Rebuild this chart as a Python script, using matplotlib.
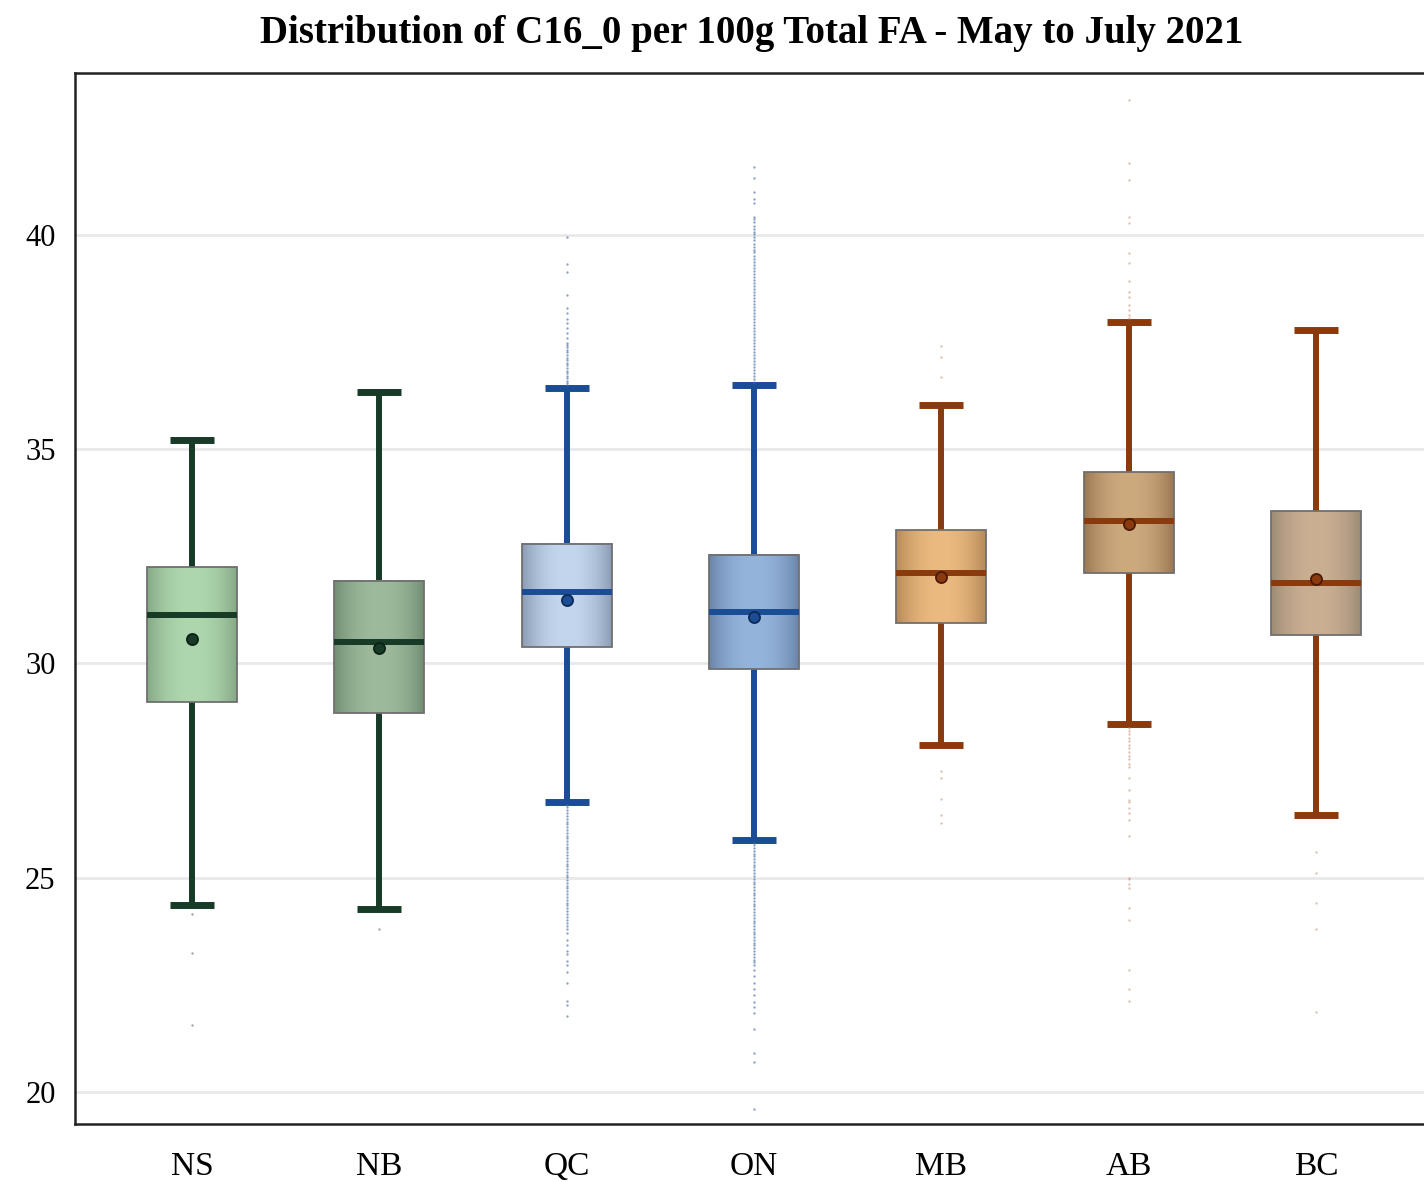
import numpy as np
import matplotlib
matplotlib.use("Agg")
import matplotlib.pyplot as plt
from matplotlib.colors import to_rgb

plt.rcParams['font.family'] = ['Liberation Serif', 'DejaVu Serif']

# ---- data -------------------------------------------------------------
provinces = ['NS', 'NB', 'QC', 'ON', 'MB', 'AB', 'BC']
q1 = [29.11, 28.84, 30.39, 29.86, 30.95, 32.12, 30.67]
medians = [31.13, 30.49, 31.66, 31.19, 32.11, 33.33, 31.87]
q3 = [32.26, 31.93, 32.80, 32.53, 33.12, 34.47, 33.56]
means = [30.57, 30.35, 31.48, 31.09, 32.02, 33.26, 31.96]
whisker_low = [24.36, 24.27, 26.77, 25.88, 28.10, 28.59, 26.46]
whisker_high = [35.22, 36.34, 36.43, 36.50, 36.03, 37.97, 37.78]

outliers_ns = [24.15, 23.24, 21.56]
outliers_nb = [23.80]
outliers_qc = [39.95, 39.32, 39.14, 38.60, 38.30, 38.18, 38.04, 37.95, 37.83,
               37.71, 37.60, 37.48, 37.44, 37.38, 37.31, 37.26, 37.20, 37.13,
               37.08, 37.02, 36.96, 36.90, 36.83, 36.78, 36.71, 36.66, 36.60,
               36.55, 36.49,
               26.70, 26.64, 26.57, 26.51, 26.45, 26.38, 26.31, 26.25, 26.18,
               26.12, 26.05, 25.98, 25.92, 25.85, 25.79, 25.72, 25.66, 25.59,
               25.53, 25.46, 25.40, 25.33, 25.27, 25.20, 25.14, 25.07, 25.01,
               24.94, 24.88, 24.81, 24.75, 24.68, 24.62, 24.55, 24.49, 24.42,
               24.36, 24.29, 24.22, 24.15, 24.08, 24.01, 23.94, 23.87, 23.80,
               23.70, 23.55, 23.44, 23.30, 23.21, 23.05, 22.96, 22.80, 22.54,
               22.12, 22.03, 21.77]
outliers_on = [41.59, 41.33, 41.00, 40.84, 40.75, 40.42, 40.37, 40.30, 40.22,
               40.15, 40.08, 40.02, 39.95, 39.88, 39.80, 39.73, 39.66, 39.60,
               39.52, 39.45, 39.38, 39.31, 39.24, 39.17, 39.10, 39.03, 38.96,
               38.89, 38.82, 38.75, 38.68, 38.61, 38.54, 38.47, 38.40, 38.33,
               38.26, 38.19, 38.12, 38.05, 37.98, 37.91, 37.84, 37.77, 37.70,
               37.63, 37.56, 37.49, 37.42, 37.35, 37.28, 37.21, 37.14, 37.07,
               37.00, 36.93, 36.86, 36.79, 36.72, 36.65, 36.58,
               25.82, 25.76, 25.69, 25.63, 25.56, 25.50, 25.43, 25.37, 25.30,
               25.24, 25.17, 25.11, 25.04, 24.98, 24.91, 24.85, 24.78, 24.72,
               24.65, 24.59, 24.52, 24.46, 24.39, 24.33, 24.26, 24.20, 24.13,
               24.07, 24.00, 23.94, 23.87, 23.81, 23.74, 23.68, 23.61, 23.55,
               23.48, 23.42, 23.35, 23.29, 23.22, 23.16, 23.09, 23.03, 22.96,
               22.85, 22.70, 22.55, 22.40, 22.26, 22.10, 21.98, 21.84, 21.47,
               20.91, 20.70, 19.60]
outliers_mb = [37.41, 37.15, 36.69, 27.49, 27.33, 26.84, 26.46, 26.28]
outliers_ab = [43.15, 41.68, 41.28, 40.42, 40.28, 39.58, 39.35, 38.93, 38.67,
               38.55, 38.37, 38.25, 38.13, 38.06,
               28.50, 28.42, 28.35, 28.27, 28.18, 28.10, 28.02, 27.93, 27.85,
               27.76, 27.66, 27.58, 27.33, 27.05, 26.82, 26.76, 26.63, 26.52,
               26.35, 25.97, 25.00, 24.97, 24.86, 24.76, 24.29, 24.02, 22.85,
               22.40, 22.12]
outliers_bc = [25.60, 25.11, 24.41, 23.80, 21.87]
outliers = [outliers_ns, outliers_nb, outliers_qc, outliers_on,
            outliers_mb, outliers_ab, outliers_bc]

# ---- styling per province --------------------------------------------
line_colors = ['#173b27', '#173b27', '#1a4d94', '#1a4d94',
               '#8a3a0c', '#8a3a0c', '#8a3a0c']
mean_edges = ['#0d2016', '#0d2016', '#0d2a55', '#0d2a55',
              '#4a1a05', '#4a1a05', '#4a1a05']
flier_colors = ['#66756b', '#66756b', '#4a70b0', '#4a70b0',
                '#cf9f88', '#cf9f88', '#cf9f88']
fill_edge = ['#86a886', '#728e72', '#8a9bb3', '#6a84a8',
             '#b58858', '#9a7752', '#9c8a76']
fill_center = ['#aed7ae', '#9dba9d', '#c3d6ee', '#94b4dc',
               '#ebba80', '#cda97e', '#caaf93']

fig = plt.figure(figsize=(14.24, 11.82), dpi=100)
ax = fig.add_axes([75 / 1424, 58 / 1182, 1358 / 1424, 1051 / 1182])

box_w = 0.48
cap_w = 0.235
pos = np.arange(len(provinces))

for i in range(len(provinces)):
    stats = [dict(med=medians[i], q1=q1[i], q3=q3[i], whislo=whisker_low[i],
                  whishi=whisker_high[i], mean=means[i], fliers=outliers[i],
                  label=provinces[i])]
    lc = line_colors[i]
    ax.bxp(stats, positions=[pos[i]], widths=box_w, capwidths=cap_w,
           showmeans=True, patch_artist=True, manage_ticks=False,
           boxprops=dict(facecolor='none', edgecolor='#6f6f6f',
                         linewidth=1.3, zorder=3),
           whiskerprops=dict(color=lc, linewidth=4.3, solid_capstyle='butt',
                             zorder=2),
           capprops=dict(color=lc, linewidth=5.0, solid_capstyle='butt',
                         zorder=2),
           medianprops=dict(color=lc, linewidth=4.3, solid_capstyle='butt',
                            zorder=4),
           meanprops=dict(marker='o', markersize=8, markerfacecolor=lc,
                          markeredgecolor=mean_edges[i], markeredgewidth=1.3,
                          zorder=5),
           flierprops=dict(marker='o', markersize=1.7, markerfacecolor=flier_colors[i],
                           markeredgecolor='none', alpha=0.65, zorder=2))

    # cylindrical shading inside the box
    t = np.linspace(-1, 1, 200)
    mix = 1 - np.abs(t) ** 2.2
    c0 = np.array(to_rgb(fill_edge[i]))
    c1 = np.array(to_rgb(fill_center[i]))
    grad = (c0[None, :] + (c1 - c0)[None, :] * mix[:, None])[None, :, :]
    ax.imshow(grad, extent=[pos[i] - box_w / 2, pos[i] + box_w / 2, q1[i], q3[i]],
              aspect='auto', interpolation='bilinear', zorder=2.5)

ax.set_xlim(-0.625, 6.625)
ax.set_ylim(19.253, 43.78)
ax.set_xticks(pos)
ax.set_xticklabels(provinces, fontsize=24)
ax.set_yticks([20, 25, 30, 35, 40])
ax.set_yticklabels(['20', '25', '30', '35', '40'], fontsize=22)
ax.tick_params(axis='both', length=0)
ax.tick_params(axis='y', pad=14)
ax.tick_params(axis='x', pad=20)
ax.yaxis.grid(True, color='#e9e9e9', linewidth=2.0, zorder=0)
ax.set_axisbelow(True)
for side in ['left', 'top', 'bottom', 'right']:
    ax.spines[side].set_linewidth(1.8)
    ax.spines[side].set_color('#222222')

fig.text(752 / 1424, 1 - 33 / 1182,
         'Distribution of C16_0 per 100g Total FA - May to July 2021',
         ha='center', va='center', fontsize=28, fontweight='bold')

fig.savefig('out.png', dpi=100, facecolor='white')
